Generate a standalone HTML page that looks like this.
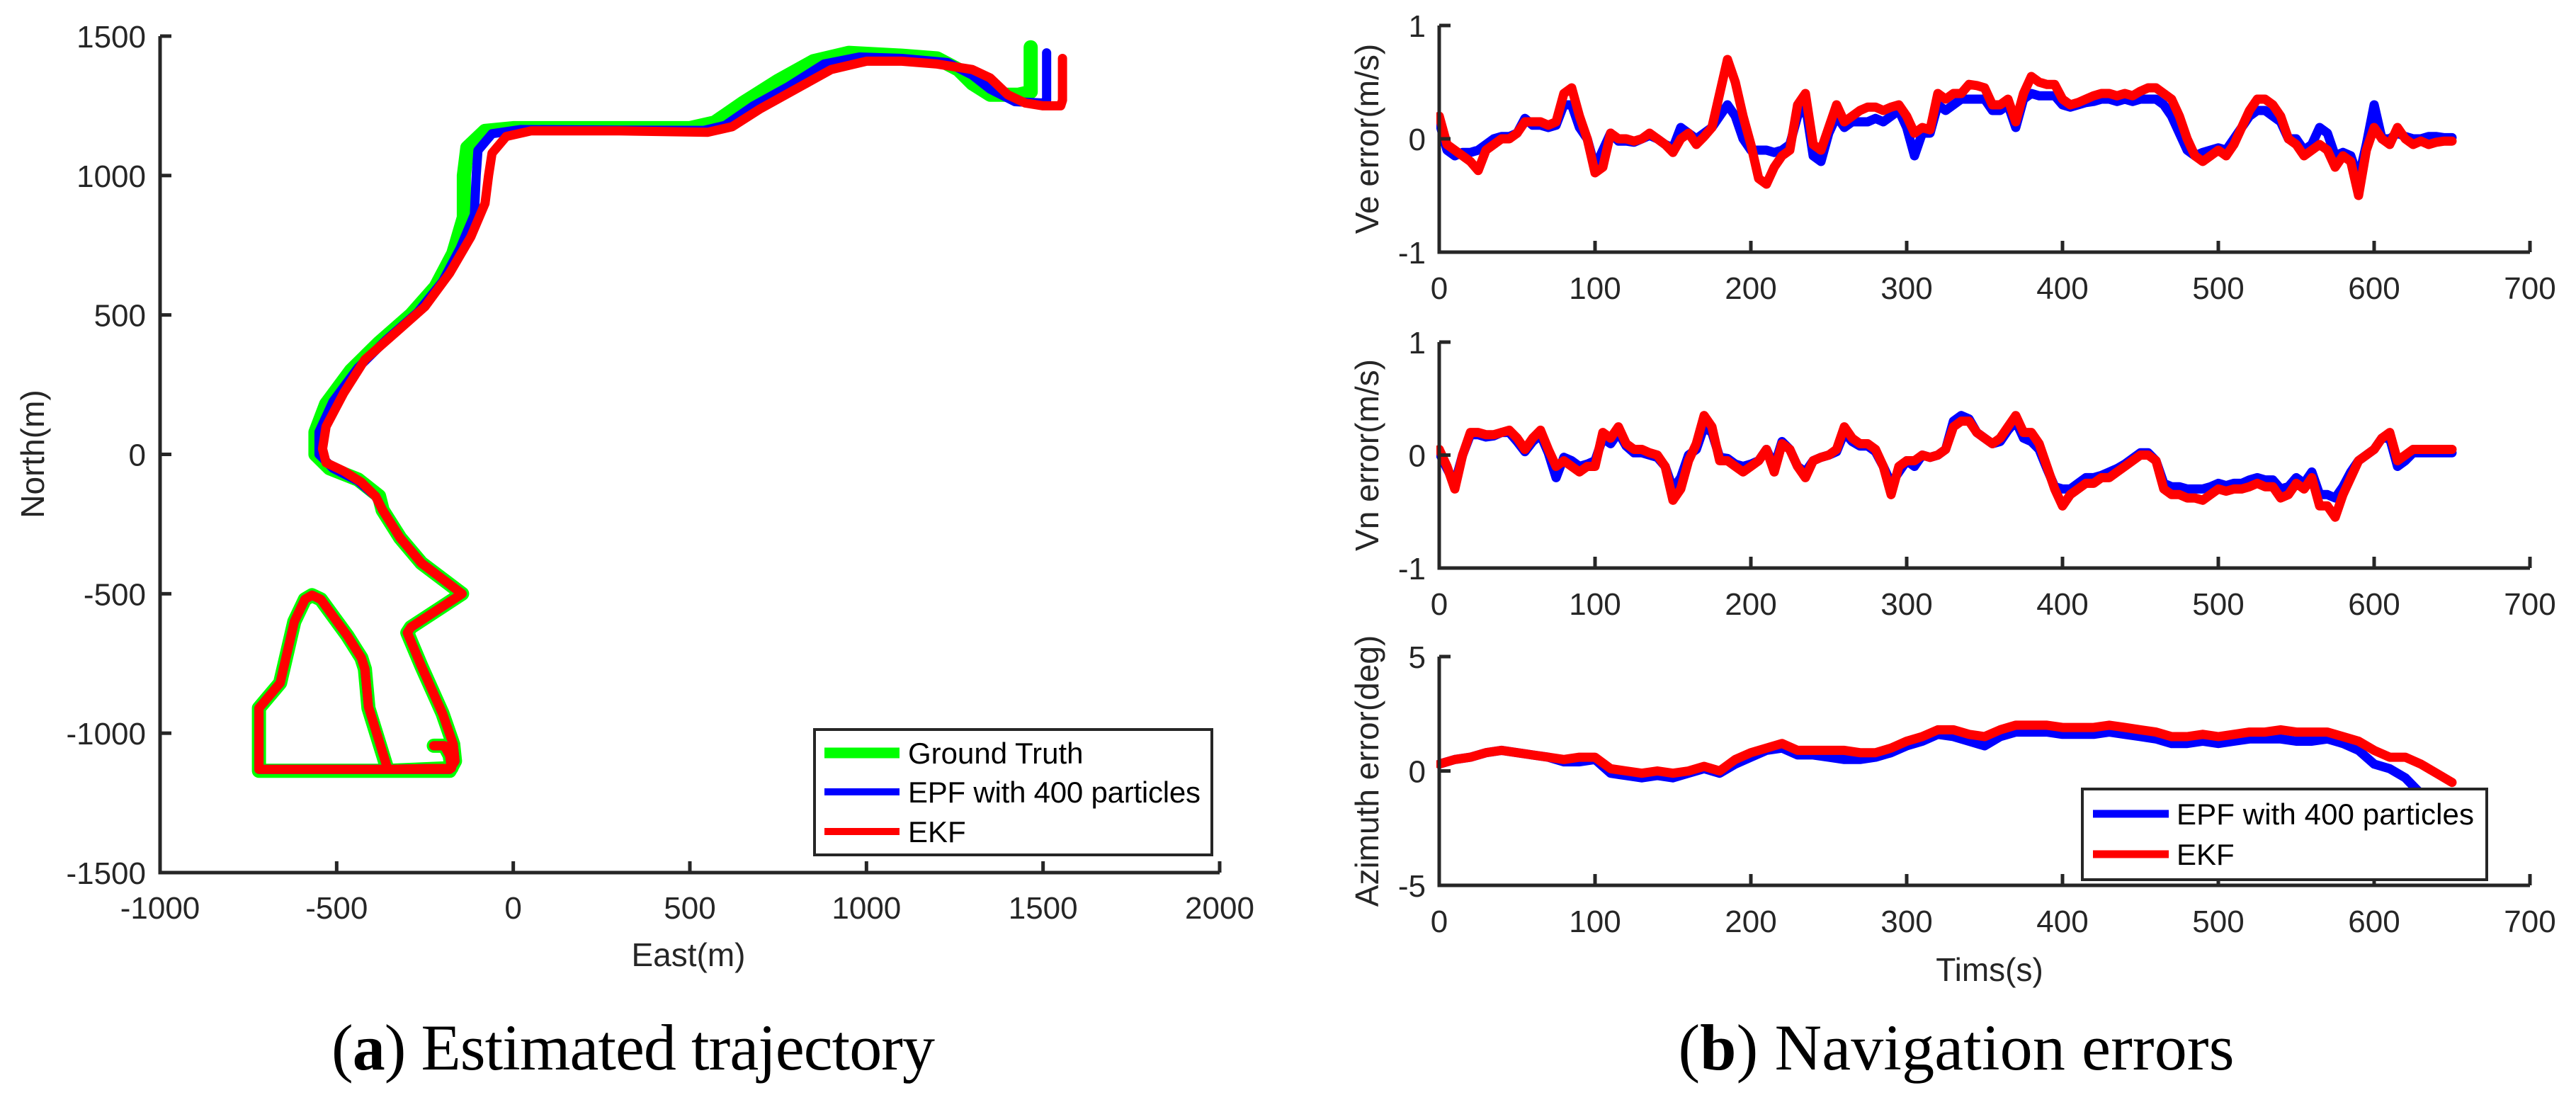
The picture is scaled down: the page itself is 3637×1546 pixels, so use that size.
<!DOCTYPE html>
<html><head><meta charset="utf-8"><style>
html,body{margin:0;padding:0;background:#fff}
svg{display:block}
text{font-family:"Liberation Sans",sans-serif;fill:#262626}
</style></head><body>
<svg id="fig" width="3637" height="1546" viewBox="0 0 3637 1546" xmlns="http://www.w3.org/2000/svg">
<g id="left"></g>
<g id="right"></g>
<text x="894" y="1510" text-anchor="middle" style="font-family:'Liberation Serif',serif;font-size:92px;fill:#000" textLength="852">(<tspan font-weight="bold">a</tspan>) Estimated trajectory</text>
<text x="2762" y="1510" text-anchor="middle" style="font-family:'Liberation Serif',serif;font-size:92px;fill:#000" textLength="785">(<tspan font-weight="bold">b</tspan>) Navigation errors</text>
</svg>
<script>
// ---------- Trajectory data ----------
const gtEast  = [-225,-195,-180,-175,-350,-720,-720,-700,-660,-620,-590,-570,-545,-470,-430,-420,-410,-355,-180,-165,-170,-200,-260,-300,-290,-145,-260,-320,-370,-380,-440,-520,-560,-560,-530,-460,-380,-290,-220,-170,-140,-140,-130,-80,0,300,500,570,650,750,850,950,1100,1200,1260,1300,1350,1430,1465,1465];
const gtNorth = [-1045,-1045,-1080,-1125,-1135,-1135,-910,-880,-820,-600,-520,-505,-520,-650,-730,-770,-910,-1135,-1135,-1100,-1040,-930,-760,-640,-620,-500,-390,-300,-200,-150,-90,-50,0,80,180,300,400,500,600,720,850,1000,1100,1160,1170,1170,1170,1190,1260,1340,1410,1440,1430,1420,1380,1330,1290,1290,1300,1460];
const epfEast  = [-225,-195,-180,-175,-350,-720,-720,-700,-660,-620,-590,-570,-545,-470,-430,-420,-410,-355,-180,-165,-170,-200,-260,-300,-290,-145,-260,-320,-370,-390,-440,-510,-550,-550,-510,-440,-360,-270,-200,-150,-110,-105,-100,-60,20,300,540,600,680,780,880,980,1100,1230,1300,1350,1420,1500,1510,1510];
const epfNorth = [-1045,-1045,-1080,-1125,-1130,-1130,-910,-880,-820,-600,-520,-505,-520,-650,-730,-770,-905,-1130,-1130,-1100,-1040,-930,-760,-640,-620,-500,-390,-300,-200,-150,-95,-50,0,80,190,310,410,510,620,740,860,1000,1090,1150,1165,1163,1162,1180,1250,1320,1400,1425,1420,1405,1360,1310,1265,1260,1270,1440];
const ekfEast  = [-225,-195,-180,-175,-350,-720,-720,-700,-660,-620,-590,-570,-545,-470,-430,-420,-410,-355,-180,-165,-170,-200,-260,-300,-290,-145,-260,-320,-370,-390,-430,-480,-530,-540,-530,-480,-420,-330,-250,-180,-120,-80,-70,-60,-20,50,300,550,620,700,800,900,1000,1100,1200,1300,1350,1400,1450,1500,1550,1555,1555];
const ekfNorth = [-1045,-1045,-1080,-1125,-1130,-1130,-910,-880,-820,-600,-520,-505,-520,-650,-730,-770,-905,-1130,-1130,-1100,-1040,-930,-760,-640,-620,-500,-390,-300,-200,-150,-100,-60,-30,20,100,220,340,440,530,650,780,900,1000,1080,1140,1160,1160,1155,1175,1240,1310,1380,1410,1410,1400,1380,1350,1290,1260,1250,1250,1270,1420];
const leftXTicks = [-1000,-500,0,500,1000,1500,2000];
const leftYTicks = [-1500,-1000,-500,0,500,1000,1500];

// ---------- Error series (t = 0..650 step 5 for velocities, step 10 for azimuth) ----------
const veEKF = [0.2,-0.05,-0.1,-0.15,-0.2,-0.28,-0.1,-0.05,0,0,0.05,0.15,0.15,0.15,0.12,0.15,0.4,0.45,0.2,0,-0.3,-0.25,0.05,0,0,-0.02,0,0.05,0,-0.05,-0.12,0,0.05,-0.05,0.02,0.1,0.4,0.7,0.5,0.2,-0.05,-0.35,-0.4,-0.25,-0.15,-0.1,0.3,0.4,-0.05,-0.1,0.1,0.3,0.15,0.2,0.25,0.28,0.28,0.25,0.28,0.3,0.2,0.05,0.1,0.08,0.4,0.35,0.4,0.4,0.48,0.47,0.45,0.3,0.3,0.35,0.15,0.4,0.55,0.5,0.48,0.48,0.35,0.3,0.32,0.35,0.38,0.4,0.4,0.38,0.4,0.38,0.42,0.45,0.45,0.4,0.35,0.2,0,-0.15,-0.2,-0.15,-0.1,-0.15,-0.05,0.1,0.25,0.35,0.35,0.3,0.2,0,-0.05,-0.15,-0.1,-0.05,-0.1,-0.25,-0.15,-0.2,-0.5,-0.1,0.1,0,-0.05,0.1,0,-0.05,-0.02,-0.05,-0.03,-0.02,-0.02];
const veEPF = [0.15,-0.1,-0.15,-0.12,-0.12,-0.1,-0.05,0,0.02,0.02,0.05,0.18,0.12,0.12,0.1,0.12,0.3,0.3,0.1,0,-0.25,-0.1,0.05,-0.02,-0.02,-0.03,0,0.03,0,-0.05,-0.08,0.1,0.05,0,0.05,0.1,0.2,0.3,0.2,0,-0.1,-0.1,-0.1,-0.12,-0.1,-0.05,0.2,0.3,-0.15,-0.2,0.05,0.2,0.1,0.15,0.15,0.15,0.18,0.15,0.2,0.25,0.1,-0.15,0.05,0.05,0.3,0.25,0.3,0.35,0.35,0.35,0.35,0.25,0.25,0.3,0.1,0.35,0.4,0.38,0.38,0.38,0.3,0.28,0.3,0.32,0.33,0.35,0.35,0.33,0.35,0.33,0.35,0.35,0.35,0.3,0.2,0.05,-0.1,-0.15,-0.12,-0.1,-0.08,-0.1,0,0.1,0.2,0.25,0.25,0.2,0.15,0,0,-0.1,-0.05,0.1,0.05,-0.15,-0.12,-0.15,-0.35,-0.05,0.3,0,0,0.05,0.02,0,0,0.02,0.02,0.01,0.01];
const vnEKF = [0.05,-0.1,-0.3,0,0.2,0.2,0.18,0.18,0.2,0.22,0.15,0.05,0.15,0.22,0.05,-0.1,-0.05,-0.1,-0.15,-0.1,-0.1,0.2,0.15,0.25,0.1,0.05,0.05,0.02,0,-0.1,-0.4,-0.3,-0.05,0.1,0.35,0.25,-0.05,-0.05,-0.1,-0.15,-0.1,-0.05,0.05,-0.15,0.1,0.05,-0.1,-0.2,-0.05,-0.02,0,0.05,0.25,0.15,0.1,0.1,0.05,-0.1,-0.35,-0.1,-0.05,-0.05,0,-0.02,0,0.05,0.25,0.3,0.3,0.2,0.15,0.1,0.15,0.25,0.35,0.2,0.2,0.1,-0.1,-0.3,-0.45,-0.35,-0.3,-0.25,-0.25,-0.2,-0.2,-0.15,-0.1,-0.05,0,0,-0.05,-0.3,-0.35,-0.35,-0.38,-0.38,-0.4,-0.35,-0.3,-0.32,-0.3,-0.3,-0.28,-0.25,-0.28,-0.28,-0.38,-0.35,-0.25,-0.3,-0.2,-0.45,-0.45,-0.55,-0.35,-0.2,-0.05,0,0.05,0.15,0.2,-0.05,0,0.05,0.05,0.05,0.05,0.05,0.05];
const vnEPF = [0.02,-0.12,-0.25,0,0.18,0.18,0.16,0.17,0.2,0.2,0.12,0.03,0.12,0.18,0.02,-0.2,-0.02,-0.05,-0.1,-0.08,-0.05,0.15,0.1,0.2,0.08,0.02,0.02,0,-0.02,-0.1,-0.3,-0.2,0,0.05,0.25,0.2,-0.02,-0.03,-0.08,-0.1,-0.08,-0.05,0.05,-0.1,0.12,0.05,-0.1,-0.15,-0.05,-0.02,0,0.03,0.2,0.12,0.08,0.08,0.03,-0.1,-0.25,-0.15,-0.05,-0.1,0,-0.02,0,0.05,0.3,0.35,0.32,0.2,0.15,0.1,0.12,0.22,0.3,0.15,0.12,0.05,-0.12,-0.28,-0.3,-0.3,-0.25,-0.2,-0.2,-0.18,-0.15,-0.12,-0.08,-0.03,0.02,0.02,-0.05,-0.25,-0.28,-0.28,-0.3,-0.3,-0.3,-0.28,-0.25,-0.27,-0.25,-0.25,-0.22,-0.2,-0.22,-0.22,-0.3,-0.28,-0.2,-0.25,-0.15,-0.35,-0.35,-0.38,-0.28,-0.15,-0.05,0,0.05,0.15,0.15,-0.1,-0.05,0.02,0.02,0.02,0.02,0.02,0.02];
const azEKF = [0.3,0.5,0.6,0.8,0.9,0.8,0.7,0.6,0.5,0.6,0.6,0.1,0,-0.1,0,-0.1,0,0.2,0,0.5,0.8,1.0,1.2,0.9,0.9,0.9,0.9,0.8,0.8,1.0,1.3,1.5,1.8,1.8,1.6,1.5,1.8,2.0,2.0,2.0,1.9,1.9,1.9,2.0,1.9,1.8,1.7,1.5,1.5,1.6,1.5,1.6,1.7,1.7,1.8,1.7,1.7,1.7,1.5,1.3,0.9,0.6,0.6,0.3,-0.1,-0.5];
const azEPF = [0.3,0.5,0.6,0.8,0.9,0.8,0.7,0.6,0.4,0.4,0.5,-0.1,-0.2,-0.3,-0.2,-0.3,-0.1,0.1,-0.1,0.3,0.6,0.9,1.0,0.7,0.7,0.6,0.5,0.5,0.6,0.8,1.1,1.3,1.6,1.5,1.3,1.1,1.5,1.7,1.7,1.7,1.6,1.6,1.6,1.7,1.6,1.5,1.4,1.2,1.2,1.3,1.2,1.3,1.4,1.4,1.4,1.3,1.3,1.4,1.2,0.9,0.3,0.1,-0.3,-1.0,-1.8,-2.5];
const timeTicks = [0,100,200,300,400,500,600,700];
const velTicks = [-1,0,1];
const azTicks = [-5,0,5];

const NS='http://www.w3.org/2000/svg';
function mk(tag, attrs, parent, txt){const e=document.createElementNS(NS,tag);for(const k in attrs)e.setAttribute(k,attrs[k]);if(txt!==undefined)e.textContent=txt;parent.appendChild(e);return e;}
const AX='#262626';

// ---------- Left chart ----------
const L=document.getElementById('left');
const lx=v=>226+(v+1000)*(1722-226)/3000;
const ly=v=>1232-(v+1500)*(1232-51)/3000;
function polyline(xs,ys,fx,fy,color,w,parent,name){
  let d='';for(let i=0;i<xs.length;i++){d+=(i?'L':'M')+fx(xs[i]).toFixed(1)+','+fy(ys[i]).toFixed(1);}
  const p=mk('path',{d:d,fill:'none',stroke:color,'stroke-width':w,'stroke-linejoin':'round','stroke-linecap':'round'},parent);
  
  
  return p;
}
polyline(gtEast,gtNorth,lx,ly,'#00ff00',20,L,'ground-truth-line');
polyline(epfEast,epfNorth,lx,ly,'#0000ff',13,L,'epf-line');
polyline(ekfEast,ekfNorth,lx,ly,'#ff0000',13,L,'ekf-line');
const lAxis=mk('path',{d:`M226,51V1232H1722`,fill:'none',stroke:AX,'stroke-width':5},L);


leftXTicks.forEach(v=>{
  const t=mk('line',{x1:lx(v),x2:lx(v),y1:1232,y2:1216,stroke:AX,'stroke-width':5},L);
  
  
  const tl=mk('text',{x:lx(v),y:1297,'text-anchor':'middle','font-size':44},L,String(v));
  
  
});
leftYTicks.forEach(v=>{
  const t=mk('line',{x1:226,x2:242,y1:ly(v),y2:ly(v),stroke:AX,'stroke-width':5},L);
  
  
  const tl=mk('text',{x:206,y:ly(v)+16,'text-anchor':'end','font-size':44},L,String(v));
  
  
});
const xt=mk('text',{x:972,y:1364,'text-anchor':'middle','font-size':46},L,'East(m)');


const yt=mk('text',{x:0,y:0,'text-anchor':'middle','font-size':46,transform:'translate(62,641) rotate(-90)'},L,'North(m)');


// legend
const lg=mk('g',{},L);


mk('rect',{x:1150,y:1030,width:561,height:177,fill:'#fff',stroke:AX,'stroke-width':4},lg);
[['Ground Truth','#00ff00',15,1063],['EPF with 400 particles','#0000ff',10,1118],['EKF','#ff0000',10,1174]].forEach((e,i)=>{
  const g=mk('g',{},lg);
  
  
  mk('line',{x1:1164,x2:1270,y1:e[3],y2:e[3],stroke:e[1],'stroke-width':e[2]},g);
  const a={x:1282,y:e[3]+15,'font-size':42,style:'fill:#000'};
  if(i==1)a.textLength=413;
  mk('text',a,g,e[0]);
});

// ---------- Right charts ----------
const R=document.getElementById('right');
const tx=v=>2032+v*(3572-2032)/700;
const panels=[
  {top:36,bot:356,min:-1,max:1,ticks:velTicks,title:'Ve error(m/s)',blue:veEPF,red:veEKF,dt:5,name:'ve-panel'},
  {top:483,bot:802,min:-1,max:1,ticks:velTicks,title:'Vn error(m/s)',blue:vnEPF,red:vnEKF,dt:5,name:'vn-panel'},
  {top:927,bot:1250,min:-5,max:5,ticks:azTicks,title:'Azimuth error(deg)',blue:azEPF,red:azEKF,dt:10,name:'azimuth-panel'}
];
panels.forEach((p,pi)=>{
  const g=mk('g',{},R);
  
  
  const fy=v=>p.bot-(v-p.min)*(p.bot-p.top)/(p.max-p.min);
  const times=p.red.map((_,i)=>i*p.dt);
  const clip='clip'+pi;
  const cp=mk('clipPath',{id:clip},g);
  mk('rect',{x:2028,y:p.top-10,width:1560,height:p.bot-p.top+10},cp);
  const sg=mk('g',{'clip-path':`url(#${clip})`},g);
  polyline(times,p.blue,tx,fy,'#0000ff',13,sg,'epf-series');
  polyline(times,p.red,tx,fy,'#ff0000',13,sg,'ekf-series');
  const ax=mk('path',{d:`M2032,${p.top}V${p.bot}H3572`,fill:'none',stroke:AX,'stroke-width':5},g);
  
  
  timeTicks.forEach(v=>{
    const t=mk('line',{x1:tx(v),x2:tx(v),y1:p.bot,y2:p.bot-16,stroke:AX,'stroke-width':5},g);
    
    
    const tl=mk('text',{x:tx(v),y:p.bot+66,'text-anchor':'middle','font-size':44},g,String(v));
    
    
  });
  p.ticks.forEach(v=>{
    const t=mk('line',{x1:2032,x2:2048,y1:fy(v),y2:fy(v),stroke:AX,'stroke-width':5},g);
    
    
    const tl=mk('text',{x:2013,y:fy(v)+16,'text-anchor':'end','font-size':44},g,String(v));
    
    
  });
  const yl=mk('text',{x:0,y:0,'text-anchor':'middle','font-size':46,transform:`translate(1946,${(p.top+p.bot)/2}) rotate(-90)`},g,p.title);
  
  
});
const tt=mk('text',{x:2809,y:1385,'text-anchor':'middle','font-size':46},R,'Tims(s)');


const rg=mk('g',{},R);


mk('rect',{x:2940,y:1114,width:571,height:128,fill:'#fff',stroke:AX,'stroke-width':4},rg);
[['EPF with 400 particles','#0000ff',1149],['EKF','#ff0000',1206]].forEach((e,i)=>{
  const g=mk('g',{},rg);
  
  
  mk('line',{x1:2955,x2:3062,y1:e[2],y2:e[2],stroke:e[1],'stroke-width':11},g);
  const a={x:3073,y:e[2]+15,'font-size':42,style:'fill:#000'};
  if(i==0)a.textLength=420;
  mk('text',a,g,e[0]);
});
</script>
</body></html>
